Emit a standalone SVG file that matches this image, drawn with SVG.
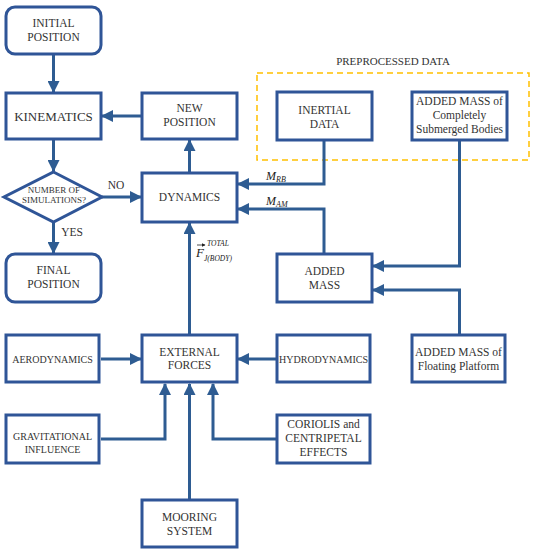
<svg xmlns="http://www.w3.org/2000/svg" width="535" height="550" viewBox="0 0 535 550">
<style>
.box{fill:#fff;stroke:#2F5597;stroke-width:3}
.ln{fill:none;stroke:#2E5C92;stroke-width:3}
.t{font-family:'Liberation Serif','DejaVu Serif',serif;font-size:11.5px;fill:#333;text-anchor:middle}
.m{font-family:'Liberation Serif','DejaVu Serif',serif;font-style:italic;fill:#222}
</style>
<defs>
<marker id="ah" markerUnits="userSpaceOnUse" markerWidth="12" markerHeight="12" viewBox="0 0 12 12" refX="11" refY="6" orient="auto">
<path d="M0,0 L12,6 L0,12 Z" fill="#2E5C92"/>
</marker>
<marker id="vh" markerUnits="userSpaceOnUse" markerWidth="4" markerHeight="4" viewBox="0 0 4 4" refX="3.5" refY="2" orient="auto">
<path d="M0,0 L4,2 L0,4 Z" fill="#222"/>
</marker>
</defs>
<rect x="0" y="0" width="535" height="550" fill="#fff"/>

<g id="preprocessed">
<rect x="257" y="73" width="272" height="87" fill="none" stroke="#FFC000" stroke-width="1.5" stroke-dasharray="6,4"/>
<text class="t" x="393" y="65" style="font-size:11px">PREPROCESSED DATA</text>
</g>

<g id="connectors">
<line class="ln" x1="53.5" y1="55" x2="53.5" y2="92" marker-end="url(#ah)"/>
<line class="ln" x1="142" y1="116" x2="102" y2="116" marker-end="url(#ah)"/>
<line class="ln" x1="53.5" y1="140" x2="53.5" y2="171" marker-end="url(#ah)"/>
<line class="ln" x1="102" y1="197" x2="141" y2="197" marker-end="url(#ah)"/>
<line class="ln" x1="53.5" y1="222" x2="53.5" y2="253" marker-end="url(#ah)"/>
<line class="ln" x1="189.5" y1="173" x2="189.5" y2="140" marker-end="url(#ah)"/>
<polyline class="ln" points="324,140 324,184 238,184" marker-end="url(#ah)"/>
<polyline class="ln" points="324,254 324,209 238,209" marker-end="url(#ah)"/>
<polyline class="ln" points="459.5,140 459.5,266 373,266" marker-end="url(#ah)"/>
<polyline class="ln" points="459.5,335 459.5,290 373,290" marker-end="url(#ah)"/>
<line class="ln" x1="189.5" y1="335" x2="189.5" y2="223" marker-end="url(#ah)"/>
<line class="ln" x1="101" y1="359" x2="141" y2="359" marker-end="url(#ah)"/>
<line class="ln" x1="277" y1="359" x2="238" y2="359" marker-end="url(#ah)"/>
<polyline class="ln" points="101,439 165,439 165,384" marker-end="url(#ah)"/>
<polyline class="ln" points="277,439 213,439 213,384" marker-end="url(#ah)"/>
<line class="ln" x1="189.5" y1="500" x2="189.5" y2="384" marker-end="url(#ah)"/>
<text class="t" x="116" y="189">NO</text>
<text class="t" x="72" y="236">YES</text>
<text class="m" x="266" y="180" font-size="12">M<tspan font-size="8" dy="2">RB</tspan></text>
<text class="m" x="266" y="205" font-size="12">M<tspan font-size="8" dy="2">AM</tspan></text>
<line x1="197" y1="245" x2="205" y2="245" stroke="#222" stroke-width="0.8" marker-end="url(#vh)"/>
<text class="m" x="196" y="257" font-size="13">F</text>
<text class="m" x="207" y="246" font-size="7.5">TOTAL</text>
<text class="m" x="204" y="261" font-size="7.5">J(BODY)</text>
</g>

<g id="initial-position">
<rect class="box" x="6" y="7" width="95" height="47" rx="9"/>
<text class="t" x="53.5" y="27">INITIAL</text>
<text class="t" x="53.5" y="41">POSITION</text>
</g>
<g id="kinematics">
<rect class="box" x="6" y="93" width="95" height="46"/>
<text class="t" x="53.5" y="121" style="font-size:13px">KINEMATICS</text>
</g>
<g id="new-position">
<rect class="box" x="142" y="93" width="95" height="46"/>
<text class="t" x="189.5" y="112">NEW</text>
<text class="t" x="189.5" y="126">POSITION</text>
</g>
<g id="decision">
<polygon class="box" points="53.5,172 102,197 53.5,222 4,197"/>
<text class="t" x="54" y="193" style="font-size:9px">NUMBER OF</text>
<text class="t" x="54" y="203" style="font-size:9px">SIMULATIONS?</text>
</g>
<g id="dynamics">
<rect class="box" x="142" y="173" width="95" height="49"/>
<text class="t" x="189.5" y="201">DYNAMICS</text>
</g>
<g id="final-position">
<rect class="box" x="6" y="254" width="95" height="48" rx="9"/>
<text class="t" x="53.5" y="274">FINAL</text>
<text class="t" x="53.5" y="288">POSITION</text>
</g>
<g id="inertial-data">
<rect class="box" x="277" y="92" width="95" height="48"/>
<text class="t" x="324.5" y="114">INERTIAL</text>
<text class="t" x="324.5" y="128">DATA</text>
</g>
<g id="added-mass-submerged">
<rect class="box" x="412" y="92" width="95" height="48"/>
<text class="t" x="459.5" y="105">ADDED MASS of</text>
<text class="t" x="459.5" y="119">Completely</text>
<text class="t" x="459.5" y="133">Submerged Bodies</text>
</g>
<g id="added-mass">
<rect class="box" x="277" y="254" width="95" height="48"/>
<text class="t" x="324.5" y="275">ADDED</text>
<text class="t" x="324.5" y="289">MASS</text>
</g>
<g id="aerodynamics">
<rect class="box" x="6" y="335" width="93" height="47"/>
<text class="t" x="52.5" y="363" style="font-size:10px">AERODYNAMICS</text>
</g>
<g id="external-forces">
<rect class="box" x="142" y="335" width="95" height="47"/>
<text class="t" x="189.5" y="356">EXTERNAL</text>
<text class="t" x="189.5" y="369">FORCES</text>
</g>
<g id="hydrodynamics">
<rect class="box" x="277" y="335" width="93" height="47"/>
<text class="t" x="323.5" y="363" style="font-size:10px">HYDRODYNAMICS</text>
</g>
<g id="added-mass-floating">
<rect class="box" x="412" y="335" width="93" height="47"/>
<text class="t" x="458.5" y="356">ADDED MASS of</text>
<text class="t" x="458.5" y="370">Floating Platform</text>
</g>
<g id="gravitational-influence">
<rect class="box" x="6" y="415" width="93" height="48"/>
<text class="t" x="52.5" y="440" style="font-size:10px">GRAVITATIONAL</text>
<text class="t" x="52.5" y="453" style="font-size:10px">INFLUENCE</text>
</g>
<g id="coriolis">
<rect class="box" x="277" y="415" width="93" height="48"/>
<text class="t" x="323.5" y="428">CORIOLIS and</text>
<text class="t" x="323.5" y="442">CENTRIPETAL</text>
<text class="t" x="323.5" y="456">EFFECTS</text>
</g>
<g id="mooring-system">
<rect class="box" x="142" y="500" width="95" height="47"/>
<text class="t" x="189.5" y="521">MOORING</text>
<text class="t" x="189.5" y="535">SYSTEM</text>
</g>
</svg>
